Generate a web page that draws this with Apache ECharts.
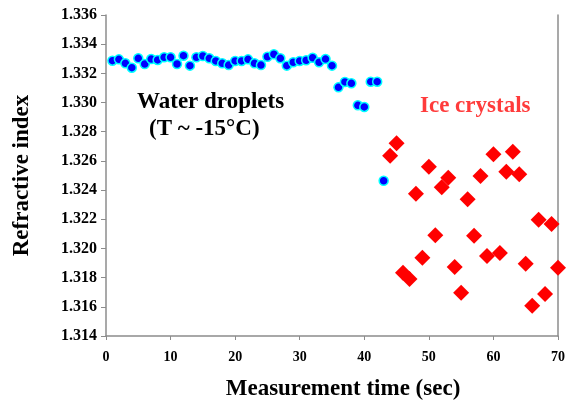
<!DOCTYPE html>
<html>
<head>
<meta charset="utf-8">
<script src="https://cdn.jsdelivr.net/npm/echarts@6/dist/echarts.min.js"></script>
<style>
  html, body { margin: 0; padding: 0; background: #fff; }
  #chart { width: 569px; height: 406px; }
</style>
</head>
<body>
<div id="chart"></div>
<script>
// Refractive index measured over time: liquid droplets first, then ice crystals.
const dropletTimes = [1, 2, 3, 4, 5, 6, 7, 8, 9, 10, 11, 12, 13, 14, 15, 16, 17, 18, 19, 20, 21, 22,
  23, 24, 25, 26, 27, 28, 29, 30, 31, 32, 33, 34, 35, 36, 37, 38, 39, 40, 41, 42, 43];
const dropletIndex = [1.33287, 1.33296, 1.33269, 1.33239, 1.33303, 1.33264, 1.33298, 1.33292, 1.33310,
  1.33310, 1.33264, 1.33321, 1.33253, 1.33310, 1.33319, 1.33303, 1.33285, 1.33269, 1.33257, 1.33285,
  1.33285, 1.33296, 1.33269, 1.33257, 1.33314, 1.33331, 1.33303, 1.33253, 1.33276, 1.33285, 1.33290,
  1.33307, 1.33276, 1.33298, 1.33253, 1.33104, 1.33141, 1.33132, 1.32981, 1.32970, 1.33143, 1.33143,
  1.32464];

const iceTimes = [44, 45, 46, 47, 48, 49, 50, 51, 52, 53, 54, 55, 56, 57, 58, 59, 60, 61, 62, 63, 64,
  65, 66, 67, 68, 69, 70];
const iceIndex = [1.32636, 1.32721, 1.31834, 1.31791, 1.32375, 1.31937, 1.32560, 1.32090, 1.32419,
  1.32485, 1.31873, 1.31697, 1.32337, 1.32087, 1.32497, 1.31948, 1.32645, 1.31969, 1.32526, 1.32663,
  1.32508, 1.31895, 1.31608, 1.32197, 1.31688, 1.32168, 1.31868];

const yMin = 1.314, yMax = 1.336, yStep = 0.002;
const xMin = 0, xMax = 70, xStep = 10;

const pair = (xs, ys) => xs.map((x, i) => [x, ys[i]]);

const serif = '"Liberation Serif", "Times New Roman", serif';
const axisGray = '#8c8c8c';

const chart = echarts.init(document.getElementById('chart'));
chart.setOption({
  animation: false,
  backgroundColor: '#ffffff',
  grid: { left: 106, right: 11, top: 15, bottom: 70, containLabel: false },
  xAxis: {
    type: 'value',
    min: xMin, max: xMax, interval: xStep,
    name: 'Measurement time (sec)',
    nameLocation: 'middle',
    nameGap: 42,
    nameTextStyle: {
      fontFamily: serif, fontWeight: 'bold', fontSize: 23, color: '#000',
      padding: [0, 0, 0, 22]
    },
    axisLine: { show: true, lineStyle: { color: axisGray, width: 1.5 } },
    axisTick: { show: true, inside: false, length: 4, lineStyle: { color: axisGray } },
    axisLabel: { fontFamily: serif, fontWeight: 'bold', fontSize: 14, color: '#000', margin: 14 },
    splitLine: { show: false }
  },
  yAxis: [{
    type: 'value',
    min: yMin, max: yMax, interval: yStep,
    name: 'Refractive index',
    nameLocation: 'middle',
    nameGap: 72,
    nameRotate: 90,
    nameTextStyle: { fontFamily: serif, fontWeight: 'bold', fontSize: 23, color: '#000' },
    axisLine: { show: true, lineStyle: { color: axisGray, width: 1.5 } },
    axisTick: { show: true, inside: false, length: 5, lineStyle: { color: axisGray } },
    axisLabel: {
      fontFamily: serif, fontWeight: 'bold', fontSize: 16, color: '#000', margin: 9,
      formatter: v => v.toFixed(3)
    },
    splitLine: { show: false }
  }, {
    type: 'value',
    position: 'right',
    min: yMin, max: yMax, interval: yStep,
    axisLine: { show: true, lineStyle: { color: axisGray, width: 1.5 } },
    axisTick: { show: false },
    axisLabel: { show: false },
    splitLine: { show: false }
  }],
  series: [{
    name: 'Water droplets',
    type: 'scatter',
    data: pair(dropletTimes, dropletIndex),
    symbol: 'circle',
    symbolSize: 9,
    itemStyle: { color: '#0000ff', borderColor: '#00ffff', borderWidth: 1.5, opacity: 1 },
    z: 3
  }, {
    name: 'Ice crystals',
    type: 'scatter',
    data: pair(iceTimes, iceIndex),
    symbol: 'diamond',
    symbolSize: [16, 16],
    itemStyle: { color: '#ff0000', opacity: 1 },
    z: 2
  }],
  graphic: [{
    type: 'text', left: 137, top: 91,
    style: { text: 'Water droplets', font: 'bold 23px ' + serif, fill: '#000' }
  }, {
    type: 'text', left: 149, top: 118,
    style: { text: '(T ~ -15°C)', font: 'bold 23px ' + serif, fill: '#000' }
  }, {
    type: 'text', left: 420, top: 95,
    style: { text: 'Ice crystals', font: 'bold 23px ' + serif, fill: '#ff3b3b' }
  }]
});
</script>
</body>
</html>
